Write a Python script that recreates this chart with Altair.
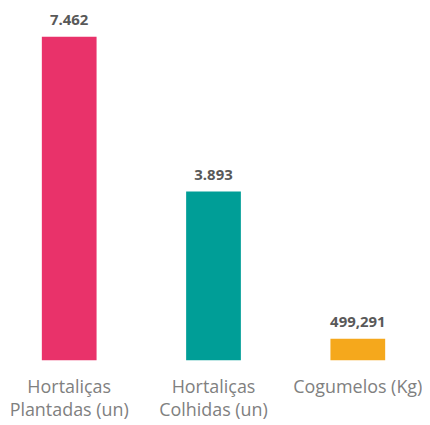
import altair as alt
import pandas as pd

categories = ["Hortaliças|Plantadas (un)", "Hortaliças|Colhidas (un)", "Cogumelos (Kg)"]
values = [7462, 3893, 499.291]
value_labels = ["7.462", "3.893", "499,291"]
colors = ["#E9326A", "#009E97", "#F5A81C"]

df = pd.DataFrame({"cat": categories, "val": values, "lab": value_labels, "color": colors})

x = alt.X("cat:N", sort=categories, title=None,
          scale=alt.Scale(paddingInner=0.6207, paddingOuter=0.2345),
          axis=alt.Axis(labelAngle=0, domain=False, ticks=False, labelPadding=18,
                        labelFontSize=18, labelColor="#808080", labelFont="Open Sans",
                        labelExpr="split(datum.label, '|')", labelLineHeight=23,
                        labelBaseline="top", labelOverlap=False, labelBound=False))
y = alt.Y("val:Q", title=None, scale=alt.Scale(domain=[0, 8105], nice=False, zero=True),
          axis=None)

bars = alt.Chart(df).mark_bar().encode(x=x, y=y, color=alt.Color("color:N", scale=None))
text = alt.Chart(df).mark_text(baseline="bottom", dy=-9, fontSize=15, fontWeight="bold",
                               color="#595959", font="Open Sans").encode(x=x, y=y, text="lab:N")

chart = (bars + text).properties(
    width=413, height=353,
    padding={"left": 0, "right": 0, "top": 0, "bottom": 2},
).configure_view(stroke=None)

chart.save("out.html", embed_options={"renderer": "svg", "actions": False})
